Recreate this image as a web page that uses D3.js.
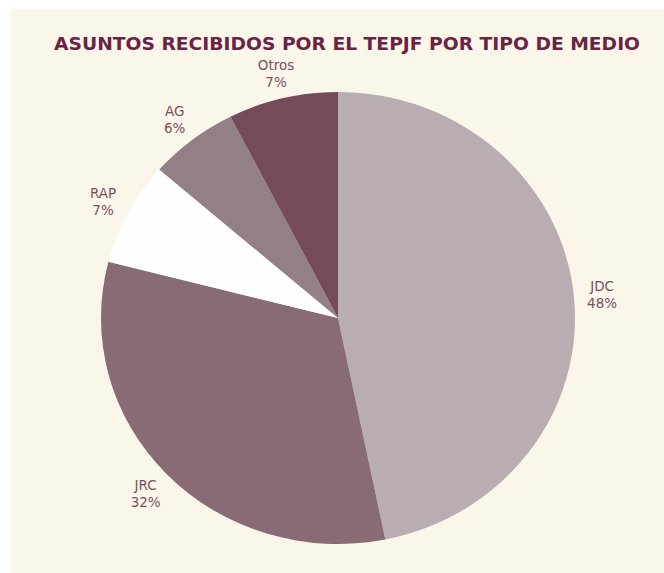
<!doctype html>
<html lang="es">
    <head>
        <meta charset="utf-8">
        <title>Asuntos recibidos por el TEPJF</title>
        <script src="https://cdn.jsdelivr.net/npm/d3@7"></script>
        <style>
            body { margin: 0; background: #ffffff; }
            text { font-family: "DejaVu Sans", Verdana, sans-serif; }
        </style>
    </head>
    <body>
        <script>
            // data (clockwise from 12 o'clock)
            var categories = ["JDC", "JRC", "RAP", "AG", "Otros"];
            var shares = [46.8, 32.2, 7.4, 6.1, 7.5];
            var pctLabels = ["48%", "32%", "7%", "6%", "7%"];
            var colors = ["#b9adb2", "#896b75", "#fefefe", "#937f86", "#754a59"];

            var svgW = 664, svgH = 573;
            var cx = 338, cy = 318;
            var rx = 237, ry = 226;

            var svg = d3.select("body")
                        .append("svg")
                        .attr("width", svgW)
                        .attr("height", svgH);

            // cream panel
            svg.append("rect")
               .attr("x", 11)
               .attr("y", 9)
               .attr("width", svgW - 11)
               .attr("height", svgH - 9)
               .attr("fill", "#faf6e9");

            svg.append("text")
               .attr("x", 347)
               .attr("y", 50)
               .attr("text-anchor", "middle")
               .attr("font-size", 18)
               .attr("font-weight", "bold")
               .attr("fill", "#6b2343")
               .attr("textLength", 586)
               .attr("lengthAdjust", "spacingAndGlyphs")
               .text("ASUNTOS RECIBIDOS POR EL TEPJF POR TIPO DE MEDIO");

            var pie = d3.pie().sort(null).value(d => d);
            var slices = pie(shares);

            var arc = d3.arc().innerRadius(0).outerRadius(rx);
            var labelArc = d3.arc().innerRadius(rx * 1.12).outerRadius(rx * 1.12);

            // picture is slightly squashed vertically
            var ky = ry / rx;

            svg.append("g")
               .attr("transform", "translate(" + cx + "," + cy + ") scale(1," + ky + ")")
               .selectAll("path")
               .data(slices)
               .enter()
               .append("path")
               .attr("d", arc)
               .attr("fill", (_, i) => colors[i]);

            var labels = svg.append("g")
                            .attr("transform", "translate(" + cx + "," + cy + ")")
                            .selectAll("text")
                            .data(slices)
                            .enter()
                            .append("text")
                            .attr("transform", d => {
                                var c = labelArc.centroid(d);
                                return "translate(" + c[0] + "," + (c[1] * ky + 2) + ")";
                            })
                            .attr("text-anchor", "middle")
                            .attr("font-size", 13.5)
                            .attr("fill", "#7a4f5f");

            labels.append("tspan")
                  .attr("x", 0)
                  .attr("y", -4)
                  .text((_, i) => categories[i]);

            labels.append("tspan")
                  .attr("x", 0)
                  .attr("y", 13)
                  .text((_, i) => pctLabels[i]);
        </script>
    </body>
</html>
